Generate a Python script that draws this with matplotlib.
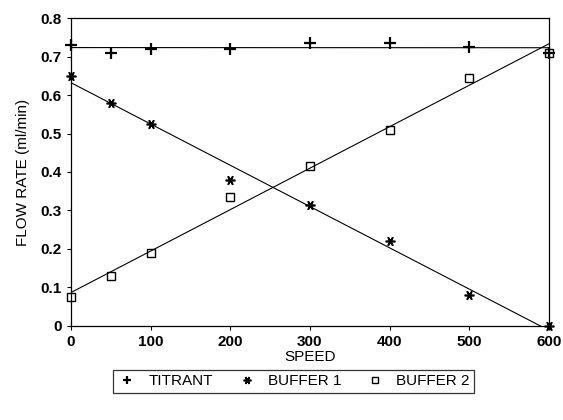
import numpy as np
import matplotlib.pyplot as plt

plt.rcParams['font.family'] = ['Liberation Sans', 'DejaVu Sans']

# flow rate measured at each pump speed
speed = [0, 50, 100, 200, 300, 400, 500, 600]
titrant = [0.73, 0.71, 0.72, 0.72, 0.735, 0.735, 0.725, 0.71]
buffer1 = [0.65, 0.58, 0.525, 0.38, 0.315, 0.22, 0.08, 0.0]
buffer2 = [0.075, 0.13, 0.19, 0.335, 0.415, 0.51, 0.645, 0.71]

fig = plt.figure(figsize=(5.63, 4.2), dpi=100)
ax = fig.add_axes([0.126, 0.224, 0.849, 0.733])

xs = np.array([0, 600])
series = [
    (titrant, '+', 'TITRANT', 8, 'k', 1.6),
    (buffer1, (6, 2, 90), 'BUFFER 1', 7, 'k', 1.2),
    (buffer2, 's', 'BUFFER 2', 6, 'none', 1.0),
]
handles = []
for y, mk, lab, ms, fc, mw in series:
    # least-squares line through each series
    m, b = np.polyfit(speed, y, 1)
    ax.plot(xs, m * xs + b, color='k', lw=0.8)
    h, = ax.plot(speed, y, linestyle='none', marker=mk, ms=ms,
                 mfc=fc, mec='k', mew=mw, label=lab, clip_on=False, zorder=3)
    handles.append(h)

ax.set_xlim(0, 600)
ax.set_ylim(0, 0.8)
ax.set_xticks(range(0, 601, 100))
ax.set_yticks(np.arange(0, 0.81, 0.1))
ax.set_yticklabels(['0', '0.1', '0.2', '0.3', '0.4', '0.5', '0.6', '0.7', '0.8'])
ax.tick_params(labelsize=11, length=3, width=0.8)
for lbl in ax.get_xticklabels() + ax.get_yticklabels():
    lbl.set_fontweight('bold')
for s in ax.spines.values():
    s.set_linewidth(0.9)

ax.set_xlabel('SPEED', fontsize=11, labelpad=1)
ax.set_ylabel('FLOW RATE (ml/min)', fontsize=11, labelpad=8)

leg = fig.legend(handles=handles, loc='center', bbox_to_anchor=(0.522, 0.092),
                 ncol=3, fontsize=11, frameon=True, fancybox=False,
                 edgecolor='k', handlelength=1.2, columnspacing=1.6,
                 borderpad=0.3, markerscale=0.8)
leg.get_frame().set_linewidth(0.9)

fig.savefig('out.png', dpi=100)
